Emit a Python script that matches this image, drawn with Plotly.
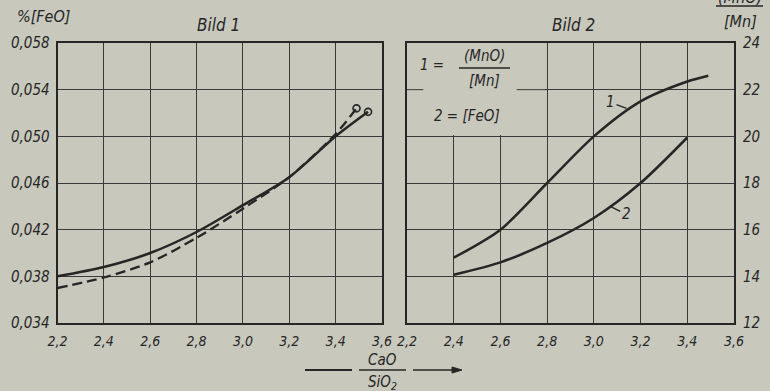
import plotly.graph_objects as go

# ---- data ----
x_ticks = [2.2, 2.4, 2.6, 2.8, 3.0, 3.2, 3.4, 3.6]
x_ticktext = ["2,2", "2,4", "2,6", "2,8", "3,0", "3,2", "3,4", "3,6"]
y1_ticks = [0.034, 0.038, 0.042, 0.046, 0.050, 0.054, 0.058]
y1_ticktext = ["0,034", "0,038", "0,042", "0,046", "0,050", "0,054", "0,058"]
y2_ticks = [12, 14, 16, 18, 20, 22, 24]
y2_ticktext = ["12", "14", "16", "18", "20", "22", "24"]

b1_solid_x = [2.2, 2.4, 2.6, 2.8, 3.0, 3.2, 3.4, 3.54]
b1_solid_y = [0.0380, 0.0388, 0.0400, 0.0418, 0.0441, 0.0465, 0.0500, 0.0521]
b1_dash_x = [2.2, 2.4, 2.6, 2.8, 3.0, 3.2, 3.4, 3.49]
b1_dash_y = [0.0370, 0.0379, 0.0392, 0.0413, 0.0438, 0.0465, 0.0502, 0.0524]

b2_c1_x = [2.4, 2.6, 2.8, 3.0, 3.2, 3.4, 3.49]
b2_c1_y = [14.8, 16.0, 18.0, 20.0, 21.5, 22.35, 22.6]
b2_c2_x = [2.4, 2.6, 2.8, 3.0, 3.2, 3.4]
b2_c2_y = [14.07, 14.6, 15.43, 16.5, 18.0, 19.95]

BG = "#c8c8bd"
INK = "#262626"
GRID = "#3a3a3a"
FONT = "DejaVu Sans Condensed, DejaVu Sans"

fig = go.Figure()
line_style = dict(color=INK, width=2.5, shape="spline", smoothing=0.8)

fig.add_trace(go.Scatter(x=b1_solid_x, y=b1_solid_y, mode="lines", line=line_style,
                         xaxis="x", yaxis="y", showlegend=False, hoverinfo="skip"))
fig.add_trace(go.Scatter(x=b1_dash_x, y=b1_dash_y, mode="lines",
                         line=dict(color=INK, width=2.3, dash="10px,5px", shape="spline", smoothing=0.8),
                         xaxis="x", yaxis="y", showlegend=False, hoverinfo="skip"))
fig.add_trace(go.Scatter(x=[b1_solid_x[-1], b1_dash_x[-1]], y=[b1_solid_y[-1], b1_dash_y[-1]],
                         mode="markers",
                         marker=dict(symbol="circle-open", size=7, color=INK, line=dict(width=1.6, color=INK)),
                         xaxis="x", yaxis="y", showlegend=False, hoverinfo="skip"))
fig.add_trace(go.Scatter(x=b2_c1_x, y=b2_c1_y, mode="lines", line=line_style,
                         xaxis="x2", yaxis="y2", showlegend=False, hoverinfo="skip"))
fig.add_trace(go.Scatter(x=b2_c2_x, y=b2_c2_y, mode="lines", line=line_style,
                         xaxis="x2", yaxis="y2", showlegend=False, hoverinfo="skip"))

tickfont = dict(family=FONT, size=15, color=INK, style="italic")
axis_common = dict(showgrid=True, gridcolor=GRID, gridwidth=1, showline=True, linecolor=INK,
                   linewidth=1.8, mirror=True, ticks="", zeroline=False,
                   fixedrange=True, automargin=False)
common_x = dict(range=[2.2, 3.6], tickvals=x_ticks, ticktext=x_ticktext, ticklabelstandoff=4,
                tickfont=dict(family=FONT, size=14, color=INK, style="italic"), **axis_common)

fig.update_layout(
    width=770, height=391,
    margin=dict(l=0, r=0, t=0, b=0, autoexpand=False),
    paper_bgcolor=BG, plot_bgcolor=BG,
    xaxis=dict(domain=[57.5 / 770, 382 / 770], anchor="y", **common_x),
    yaxis=dict(domain=[1 - 323 / 391, 1 - 43 / 391], anchor="x", range=[0.034, 0.058],
               tickvals=y1_ticks, ticktext=y1_ticktext, ticklabelstandoff=3, tickfont=tickfont,
               **axis_common),
    xaxis2=dict(domain=[407 / 770, 734 / 770], anchor="y2", **common_x),
    yaxis2=dict(domain=[1 - 323 / 391, 1 - 43 / 391], anchor="x2", range=[12, 24], side="right",
                tickvals=y2_ticks, ticktext=y2_ticktext, ticklabelstandoff=4, tickfont=tickfont,
                **axis_common),
)

# legend area in Bild 2 (covers grid)
fig.add_shape(type="rect", xref="x2", yref="y2", x0=2.2, x1=2.79, y0=20.06, y1=24,
              fillcolor=BG, line=dict(width=0), layer="between")
for xa, xb in [(2.2, 2.27), (2.67, 2.8)]:
    fig.add_shape(type="line", xref="x2", yref="y2", x0=xa, x1=xb, y0=22, y1=22,
                  line=dict(color=GRID, width=1), layer="between")

def txt(x, y, s, xref="paper", yref="paper", size=16, **kw):
    fig.add_annotation(x=x, y=y, xref=xref, yref=yref, text=s, showarrow=False,
                       xanchor="center", yanchor="middle",
                       font=dict(family=FONT, size=size, color=INK, style="italic"), **kw)

def px(xp, yp):
    return xp / 770, 1 - yp / 391

def hline(x0, x1, y, w=1.5):
    fig.add_shape(type="line", xref="paper", yref="paper", x0=x0 / 770, x1=x1 / 770,
                  y0=1 - y / 391, y1=1 - y / 391, line=dict(color=INK, width=w))

# titles
txt(*px(218, 25), "Bild 1", size=17)
txt(*px(573, 25), "Bild 2", size=17)
txt(*px(43, 17), "%[FeO]", size=16)
# right axis title (fraction, cropped at top in the original)
txt(*px(740, -2), "(MnO)", size=16)
hline(716, 763, 6)
txt(*px(740, 21), "[Mn]", size=16)

# legend inside Bild 2
txt(*px(432, 65), "1 =", size=15)
txt(*px(484, 56), "(MnO)", size=15)
hline(459, 510, 68)
txt(*px(484, 81), "[Mn]", size=15)
txt(*px(467, 116), "2 = [FeO]", size=15)

# curve labels
fig.add_annotation(x=3.14, y=21.2, xref="x2", yref="y2", text="1", showarrow=True,
                   arrowhead=0, arrowwidth=1.4, arrowcolor=INK, ax=-16, ay=-6,
                   font=dict(family=FONT, size=15, color=INK, style="italic"))
fig.add_annotation(x=3.07, y=17.0, xref="x2", yref="y2", text="2", showarrow=True,
                   arrowhead=0, arrowwidth=1.4, arrowcolor=INK, ax=16, ay=8,
                   font=dict(family=FONT, size=15, color=INK, style="italic"))

# x-axis title: CaO / SiO2 with arrow
hline(305, 352, 370, 2)
hline(359, 406, 370, 1.5)
txt(*px(382, 360), "CaO", size=15)
txt(*px(382, 382), "SiO<sub>2</sub>", size=15)
hline(413, 455, 370, 1.5)
yb = 1 - 370 / 391
fig.add_shape(type="path", xref="paper", yref="paper",
              path=f"M {462/770} {yb} L {452/770} {yb + 3/391} L {452/770} {yb - 3/391} Z",
              fillcolor=INK, line=dict(color=INK, width=1))

fig.write_html("out.html", config={"displayModeBar": False},
               post_script="document.body.style.margin='0';")
